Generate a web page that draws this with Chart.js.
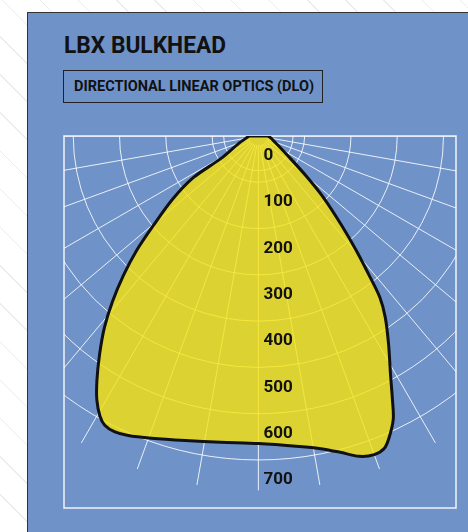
<!DOCTYPE html>
<html>
<head>
<meta charset="utf-8">
<title>LBX Bulkhead - DLO</title>
<script src="https://cdn.jsdelivr.net/npm/chart.js"></script>
<style>
  html, body { margin: 0; padding: 0; }
  body {
    width: 468px;
    height: 532px;
    overflow: hidden;
    position: relative;
    background: repeating-linear-gradient(45deg, #ffffff 0 26px, #ececec 26px 27px);
    font-family: Roboto, "DejaVu Sans", sans-serif;
  }
  #panel {
    position: absolute;
    left: 27px; top: 12px; right: -5px; bottom: -5px;
    background: #6f93c8;
    border-left: 1px solid #333;
    border-top: 1px solid #333;
  }
  #title {
    position: absolute;
    left: 64px; top: 34px;
    display: inline-block;
    font-weight: 700;
    font-size: 23px;
    line-height: 23px;
    color: #111;
    white-space: nowrap;
    transform-origin: left top;
  }
  #subtitle {
    position: absolute;
    left: 63px; top: 70px;
    width: 260px; height: 33px;
    box-sizing: border-box;
    border: 1px solid #222;
    padding-left: 10px;
  }
  #subtitle span {
    display: inline-block;
    font-weight: 700;
    font-size: 15.5px;
    line-height: 31px;
    color: #111;
    white-space: nowrap;
    transform-origin: left center;
  }
  #chart { position: absolute; left: 0; top: 0; }
</style>
</head>
<body>
<div id="panel"></div>
<div id="title">LBX BULKHEAD</div>
<div id="subtitle"><span>DIRECTIONAL LINEAR OPTICS (DLO)</span></div>
<canvas id="chart" width="468" height="532"></canvas>

<script>
window.onload = init;

// photometric curve, angle from nadir (deg) and intensity (cd)
const angleDeg = [-90, -69, -59, -57.4, -53.6, -49.6, -46.8, -44.1, -41.4, -38.8,
  -36, -33.5, -31.5, -29.5, -28, -26, -23.5, -19.5, -13.5, -7,
  0, 7.5, 11, 14.5, 17.5, 20, 22, 23.5, 25.5, 27,
  29, 32, 35, 37, 38.5, 40.5, 43, 46.5, 50, 56,
  69, 90];
const candela = [20, 46, 95, 167, 231, 298, 361, 419, 477, 531,
  584, 632, 668, 695, 707, 710, 705, 692, 676, 666,
  664, 676, 687, 705, 725, 732, 727, 709, 677, 638,
  589, 531, 478, 436, 385, 327, 264, 196, 136, 78,
  39, 20];

// polar grid
const ringValues = [75, 100, 200, 300, 400, 500, 600, 700];
const spokeAngles = [-90, -80, -70, -60, -50, -40, -30, -20, -10, 0,
  10, 20, 30, 40, 50, 60, 70, 80, 90];
const tickValues = [0, 100, 200, 300, 400, 500, 600, 700];

const spokeStart = 20;
const spokeEnd = 765;
const labelOffset = 43;

const gridColor = "rgba(255,255,255,0.85)";
const frameColor = "rgba(255,255,255,0.9)";

function toXY(angle, value) {
  const a = angle * Math.PI / 180;
  return { x: value * Math.sin(a), y: -value * Math.cos(a) };
}

function fitWidth(el, target) {
  const w = el.getBoundingClientRect().width;
  if (w > 0) el.style.transform = "scaleX(" + (target / w) + ")";
}

const polarGrid = {
  id: "polarGrid",
  beforeDatasetsDraw(chart) {
    const ctx = chart.ctx;
    const area = chart.chartArea;
    const xs = chart.scales.x, ys = chart.scales.y;
    const cx = xs.getPixelForValue(0), cy = ys.getPixelForValue(0);

    ctx.save();
    ctx.strokeStyle = frameColor;
    ctx.lineWidth = 1.5;
    ctx.strokeRect(area.left, area.top, area.width, area.height);

    ctx.beginPath();
    ctx.rect(area.left, area.top, area.width, area.height);
    ctx.clip();
    ctx.strokeStyle = gridColor;
    ctx.lineWidth = 1;

    ringValues.forEach(function (v) {
      const r = xs.getPixelForValue(v) - cx;
      ctx.beginPath();
      ctx.arc(cx, cy, r, 0, Math.PI);
      ctx.stroke();
    });

    spokeAngles.forEach(function (a) {
      const p0 = toXY(a, spokeStart);
      const p1 = toXY(a, spokeEnd);
      ctx.beginPath();
      ctx.moveTo(xs.getPixelForValue(p0.x), ys.getPixelForValue(p0.y));
      ctx.lineTo(xs.getPixelForValue(p1.x), ys.getPixelForValue(p1.y));
      ctx.stroke();
    });
    ctx.restore();
  },
  afterDatasetsDraw(chart) {
    const ctx = chart.ctx;
    const xs = chart.scales.x, ys = chart.scales.y;
    const cx = xs.getPixelForValue(0);

    ctx.save();
    ctx.font = "bold 17px Roboto, 'DejaVu Sans', sans-serif";
    ctx.fillStyle = "#111";
    ctx.textAlign = "left";
    ctx.textBaseline = "middle";
    tickValues.forEach(function (v) {
      ctx.fillText(String(v), cx + 5, ys.getPixelForValue(-(v + labelOffset)));
    });
    ctx.restore();
  },
};

function init() {
  fitWidth(document.getElementById("title"), 162);
  fitWidth(document.querySelector("#subtitle span"), 240);

  let points = angleDeg.map(function (a, i) {
    return toXY(a, candela[i]);
  });
  points.push(points[0]); // close the curve across the top

  new Chart(document.getElementById("chart"), {
    type: "line",
    data: {
      datasets: [{
        data: points,
        fill: "shape",
        backgroundColor: "rgba(248,227,13,0.8)",
        borderColor: "#111",
        borderWidth: 3,
        pointRadius: 0,
        tension: 0.3,
      }],
    },
    options: {
      responsive: false,
      animation: false,
      devicePixelRatio: 1,
      layout: { padding: { left: 64, top: 136, right: 12, bottom: 24 } },
      scales: {
        x: { type: "linear", min: -420, max: 427, display: false },
        y: { type: "linear", min: -803, max: 0, display: false },
      },
      plugins: {
        legend: { display: false },
        tooltip: { enabled: false },
      },
    },
    plugins: [polarGrid],
  });
}
</script>
</body>
</html>
